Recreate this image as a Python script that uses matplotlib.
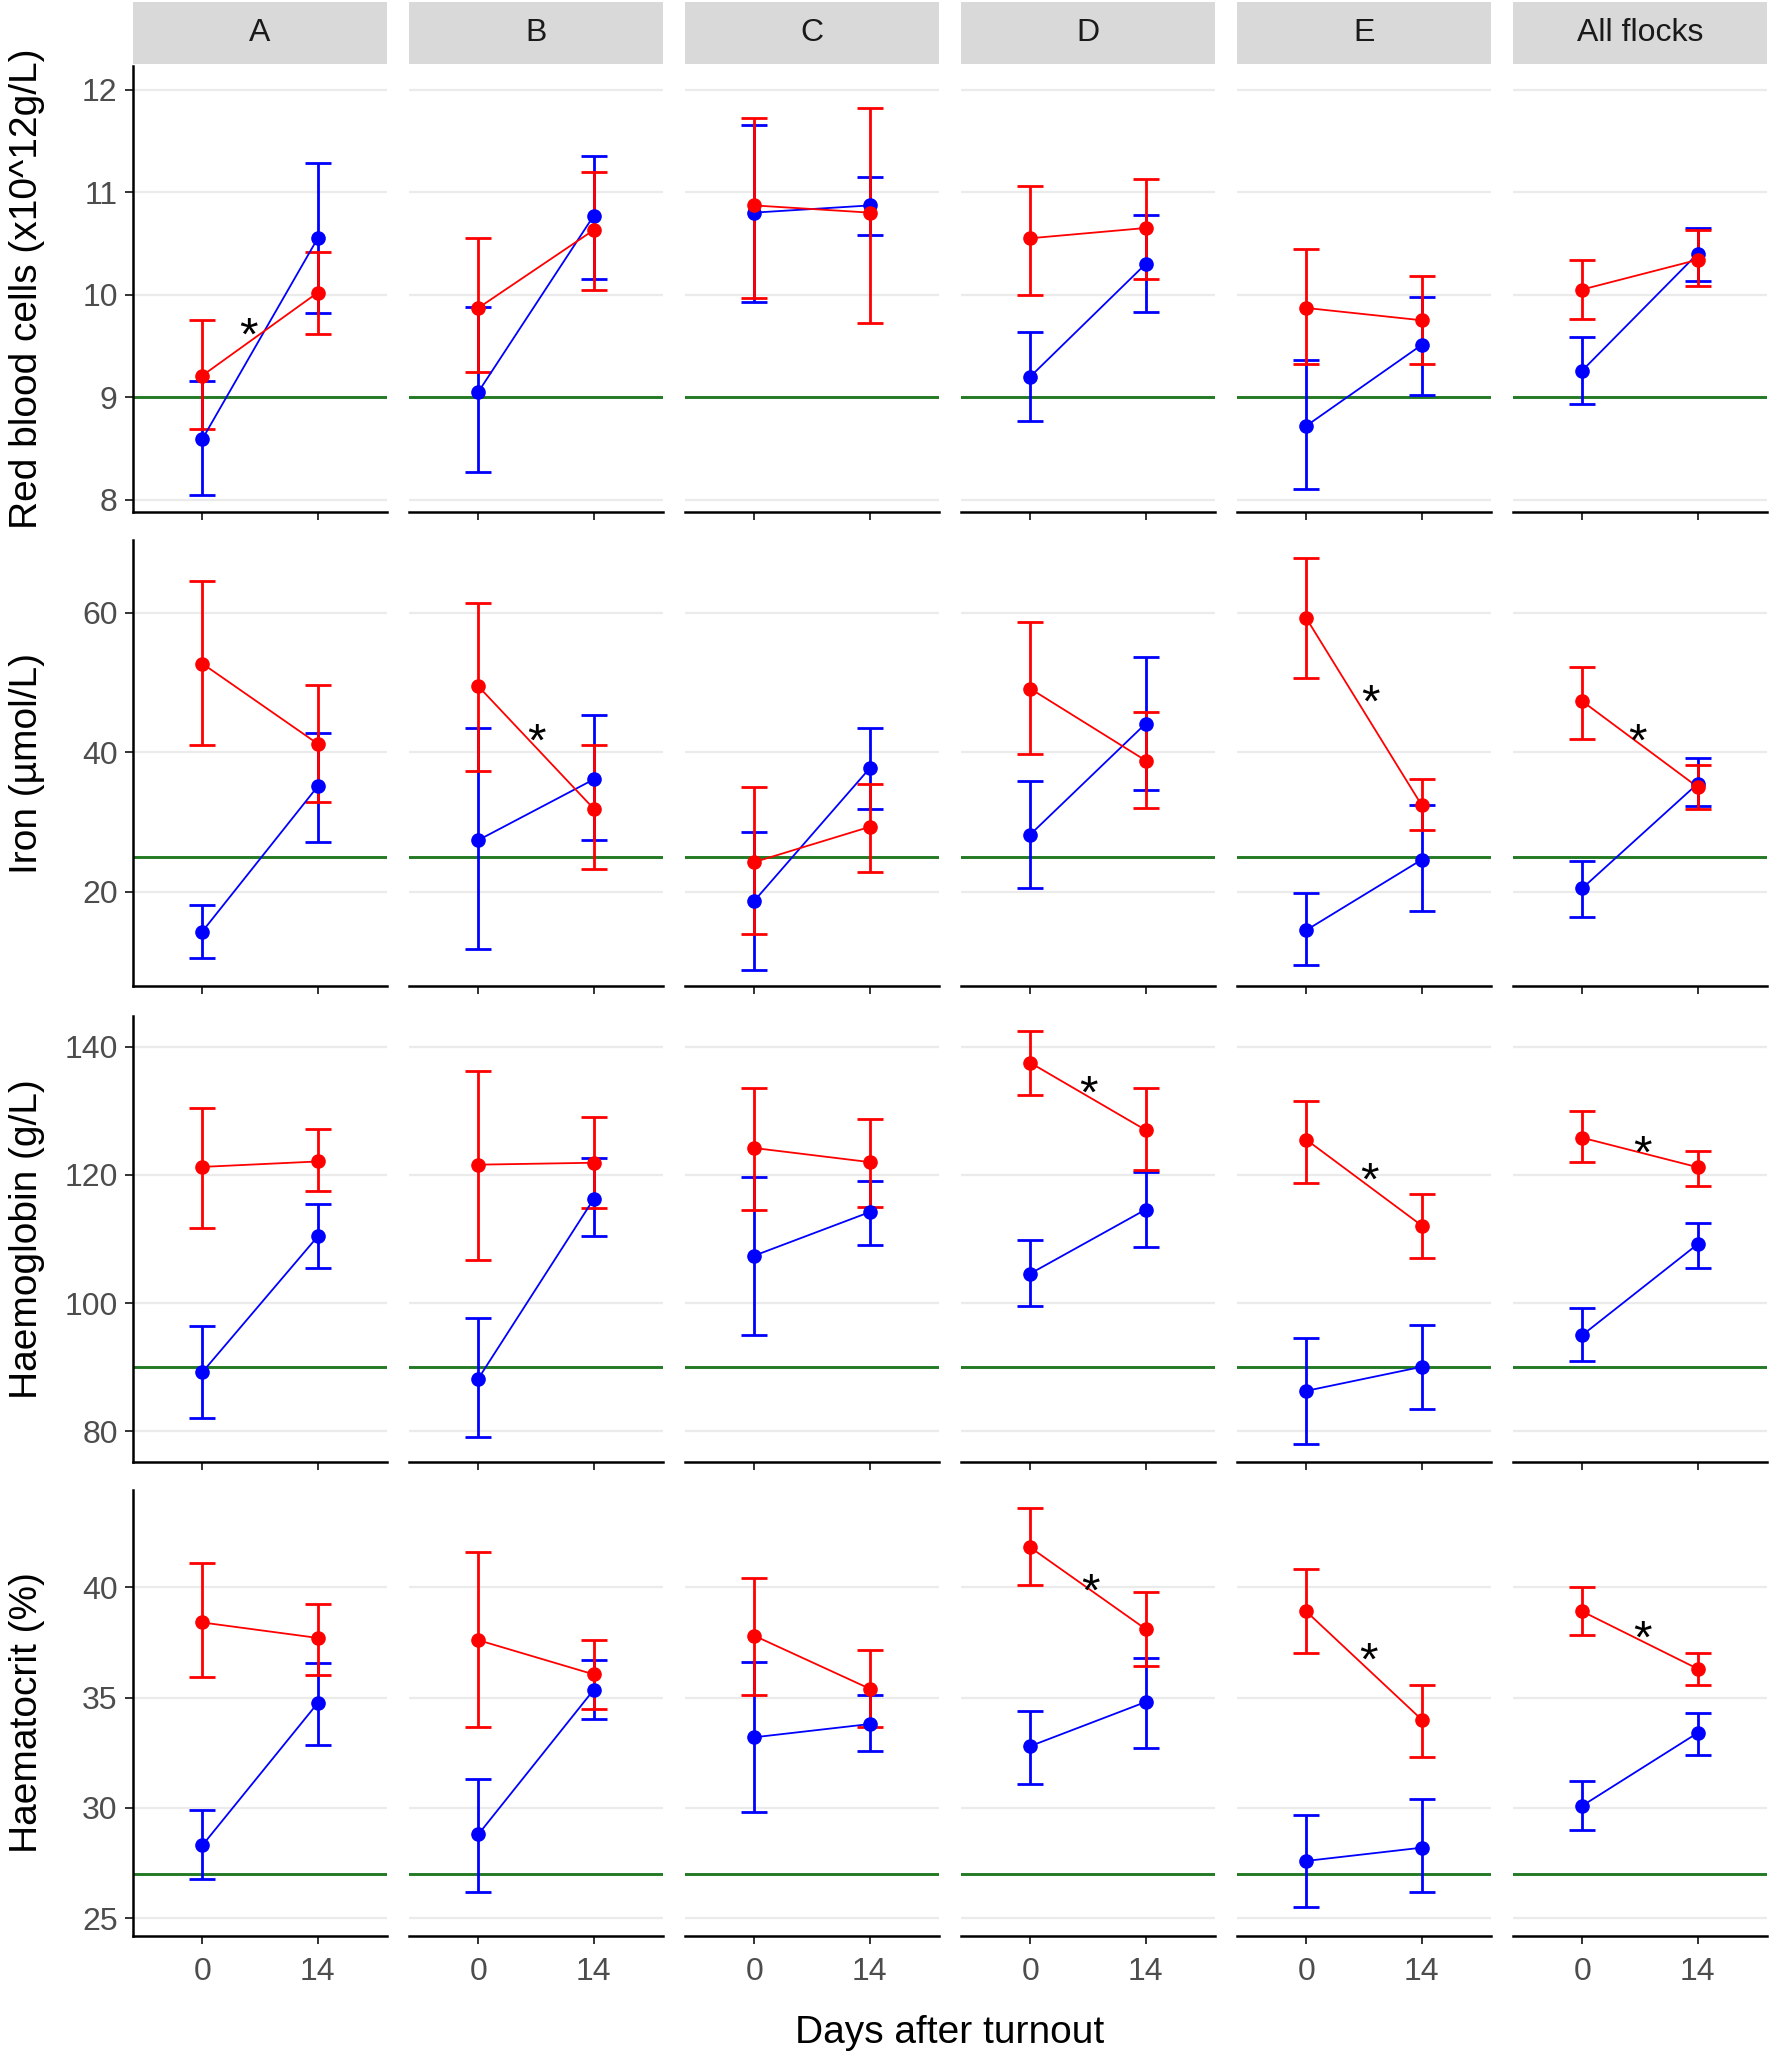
import matplotlib
matplotlib.use("Agg")
import matplotlib.pyplot as plt

plt.rcParams['font.family'] = ['Liberation Sans', 'DejaVu Sans']

# facets / x categories
flocks = ['A', 'B', 'C', 'D', 'E', 'All flocks']
days = ['0', '14']

# Red blood cells (x10^12/L): values per flock as (day 0, day 14)
rbc_red_mean = [(9.21, 10.02), (9.87, 10.63), (10.87, 10.80), (10.55, 10.65), (9.87, 9.75), (10.05, 10.34)]
rbc_red_lo = [(8.69, 9.62), (9.25, 10.05), (9.97, 9.72), (10.00, 10.15), (9.32, 9.32), (9.76, 10.08)]
rbc_red_hi = [(9.75, 10.42), (10.55, 11.20), (11.72, 11.82), (11.06, 11.13), (10.45, 10.18), (10.34, 10.63)]
rbc_blue_mean = [(8.59, 10.55), (9.05, 10.77), (10.80, 10.87), (9.20, 10.30), (8.72, 9.51), (9.26, 10.40)]
rbc_blue_lo = [(8.05, 9.82), (8.27, 10.15), (9.93, 10.58), (8.77, 9.83), (8.10, 9.02), (8.93, 10.13)]
rbc_blue_hi = [(9.16, 11.28), (9.88, 11.35), (11.65, 11.15), (9.64, 10.78), (9.36, 9.98), (9.59, 10.65)]

# Iron (umol/L)
iron_red_mean = [(52.7, 41.2), (49.45, 31.9), (24.25, 29.3), (49.1, 38.8), (59.2, 32.4), (47.3, 35.0)]
iron_red_lo = [(41.0, 32.9), (37.3, 23.3), (14.0, 22.8), (39.7, 32.0), (50.6, 28.9), (41.9, 31.9)]
iron_red_hi = [(64.5, 49.6), (61.4, 41.1), (35.0, 35.4), (58.7, 45.7), (67.8, 36.2), (52.2, 38.1)]
iron_blue_mean = [(14.3, 35.1), (27.4, 36.1), (18.7, 37.7), (28.2, 44.1), (14.5, 24.6), (20.5, 35.5)]
iron_blue_lo = [(10.5, 27.2), (11.8, 27.4), (8.8, 31.9), (20.6, 34.6), (9.5, 17.3), (16.4, 32.3)]
iron_blue_hi = [(18.1, 42.8), (43.5, 45.3), (28.5, 43.4), (35.8, 53.7), (19.8, 32.4), (24.4, 39.2)]

# Haemoglobin (g/L)
hb_red_mean = [(121.25, 122.1), (121.6, 121.9), (124.2, 122.0), (137.5, 127.0), (125.5, 112.1), (125.8, 121.2)]
hb_red_lo = [(111.7, 117.45), (106.7, 114.9), (114.5, 115.0), (132.4, 120.8), (118.7, 107.1), (122.0, 118.3)]
hb_red_hi = [(130.4, 127.1), (136.2, 129.1), (133.6, 128.7), (142.4, 133.6), (131.6, 117.1), (130.0, 123.75)]
hb_blue_mean = [(89.2, 110.4), (88.2, 116.25), (107.4, 114.2), (104.6, 114.6), (86.3, 90.05), (95.0, 109.2)]
hb_blue_lo = [(82.1, 105.5), (79.1, 110.4), (95.05, 109.1), (99.6, 108.7), (77.97, 83.4), (90.9, 105.4)]
hb_blue_hi = [(96.5, 115.5), (97.6, 122.6), (119.6, 119.1), (109.9, 120.5), (94.6, 96.6), (99.2, 112.5)]

# Haematocrit (%)
hct_red_mean = [(38.4, 37.7), (37.6, 36.05), (37.8, 35.4), (41.8, 38.1), (38.9, 34.0), (38.9, 36.3)]
hct_red_lo = [(35.95, 36.0), (33.65, 34.5), (35.1, 33.65), (40.1, 36.45), (37.0, 32.3), (37.85, 35.55)]
hct_red_hi = [(41.1, 39.25), (41.6, 37.6), (40.4, 37.15), (43.6, 39.8), (40.8, 35.55), (40.0, 37.0)]
hct_blue_mean = [(28.3, 34.75), (28.8, 35.35), (33.2, 33.8), (32.8, 34.8), (27.6, 28.2), (30.1, 33.4)]
hct_blue_lo = [(26.8, 32.85), (26.2, 34.05), (29.8, 32.6), (31.1, 32.7), (25.5, 26.2), (29.0, 32.4)]
hct_blue_hi = [(29.9, 36.55), (31.3, 36.7), (36.6, 35.1), (34.4, 36.8), (29.7, 30.4), (31.2, 34.3)]

# reference limits (green lines)
ref_lines = [9, 25, 90, 27]

# significance stars: (row, flock index, x between days, y)
stars = [(0, 0, 0.40, 9.73),
         (1, 1, 0.50, 43.5), (1, 4, 0.56, 49.0), (1, 5, 0.48, 43.5),
         (2, 3, 0.50, 134.8), (2, 4, 0.55, 121.2), (2, 5, 0.52, 125.4),
         (3, 3, 0.52, 40.4), (3, 4, 0.54, 37.3), (3, 5, 0.52, 38.3)]

rows = [
    ('Red blood cells (x10^12g/L)', rbc_red_mean, rbc_red_lo, rbc_red_hi,
     rbc_blue_mean, rbc_blue_lo, rbc_blue_hi, (7.88, 12.23), [8, 9, 10, 11, 12]),
    ('Iron (µmol/L)', iron_red_mean, iron_red_lo, iron_red_hi,
     iron_blue_mean, iron_blue_lo, iron_blue_hi, (6.5, 70.4), [20, 40, 60]),
    ('Haemoglobin (g/L)', hb_red_mean, hb_red_lo, hb_red_hi,
     hb_blue_mean, hb_blue_lo, hb_blue_hi, (75.2, 144.8), [80, 100, 120, 140]),
    ('Haematocrit (%)', hct_red_mean, hct_red_lo, hct_red_hi,
     hct_blue_mean, hct_blue_lo, hct_blue_hi, (24.2, 44.4), [25, 30, 35, 40]),
]

W, H = 1772, 2056
fig = plt.figure(figsize=(W / 100, H / 100), dpi=100)

# layout in pixels
col_left0, col_step, col_w = 133, 276, 254
row_tops = [66, 540, 1016, 1490]
row_h = 446
strip_top, strip_h = 2, 62

RED = '#FF0000'
BLUE = '#0000FF'
GREEN = '#237A23'
TICK_FS = 23
TITLE_FS = 28


def px_axes(left, top, w, h):
    return fig.add_axes([left / W, 1 - (top + h) / H, w / W, h / H])


def draw_group(ax, mean, lo, hi, color):
    x = [0, 1]
    ax.errorbar(x, mean, yerr=[[m - l for m, l in zip(mean, lo)], [h - m for m, h in zip(mean, hi)]],
                fmt='none', ecolor=color, elinewidth=2.0, capsize=9.5, capthick=2.0, zorder=3)
    ax.plot(x, mean, color=color, lw=1.3, zorder=4)
    ax.plot(x, mean, 'o', color=color, ms=9.5, zorder=5)


# strips
for j, name in enumerate(flocks):
    sax = px_axes(col_left0 + j * col_step, strip_top, col_w, strip_h)
    sax.set_facecolor('#D9D9D9')
    for s in sax.spines.values():
        s.set_visible(False)
    sax.set_xticks([])
    sax.set_yticks([])
    sax.text(0.5, 0.5, name, ha='center', va='center', fontsize=TICK_FS, color='#1A1A1A',
             transform=sax.transAxes)

axes = []
for i, (label, rm, rl, rh, bm, bl, bh, ylim, yticks) in enumerate(rows):
    row_axes = []
    for j in range(len(flocks)):
        ax = px_axes(col_left0 + j * col_step, row_tops[i], col_w, row_h)
        ax.set_xlim(-0.6, 1.6)
        ax.set_ylim(*ylim)
        ax.set_yticks(yticks)
        ax.set_xticks([0, 1])
        ax.yaxis.grid(True, color='#EBEBEB', lw=1.6)
        ax.set_axisbelow(True)
        for side in ['top', 'right']:
            ax.spines[side].set_visible(False)
        ax.spines['bottom'].set_linewidth(1.8)
        ax.spines['left'].set_linewidth(1.8)
        ax.tick_params(axis='both', length=6, width=1.4, color='#333333',
                       labelsize=TICK_FS, labelcolor='#4D4D4D', pad=5)
        ax.tick_params(axis='x', pad=9)
        if j > 0:
            ax.spines['left'].set_visible(False)
            ax.tick_params(axis='y', left=False, labelleft=False)
        if i < len(rows) - 1:
            ax.tick_params(axis='x', labelbottom=False)
        else:
            ax.set_xticklabels(days)

        ax.axhline(ref_lines[i], color=GREEN, lw=2.1, zorder=2)
        draw_group(ax, bm[j], bl[j], bh[j], BLUE)
        draw_group(ax, rm[j], rl[j], rh[j], RED)
        row_axes.append(ax)
    axes.append(row_axes)

    fig.text(27 / W, 1 - (row_tops[i] + row_h / 2) / H, label, rotation=90,
             ha='center', va='center', fontsize=TITLE_FS, color='black')

for r, c, xs, ys in stars:
    axes[r][c].annotate('*', (xs, ys), xytext=(0, -20), textcoords='offset points',
                        ha='center', va='baseline', fontsize=34, color='black', zorder=6)

fig.text(950 / W, 1 - 2033 / H, 'Days after turnout', ha='center', va='center',
         fontsize=TITLE_FS, color='black')

fig.savefig('out.png', dpi=100, facecolor='white')
